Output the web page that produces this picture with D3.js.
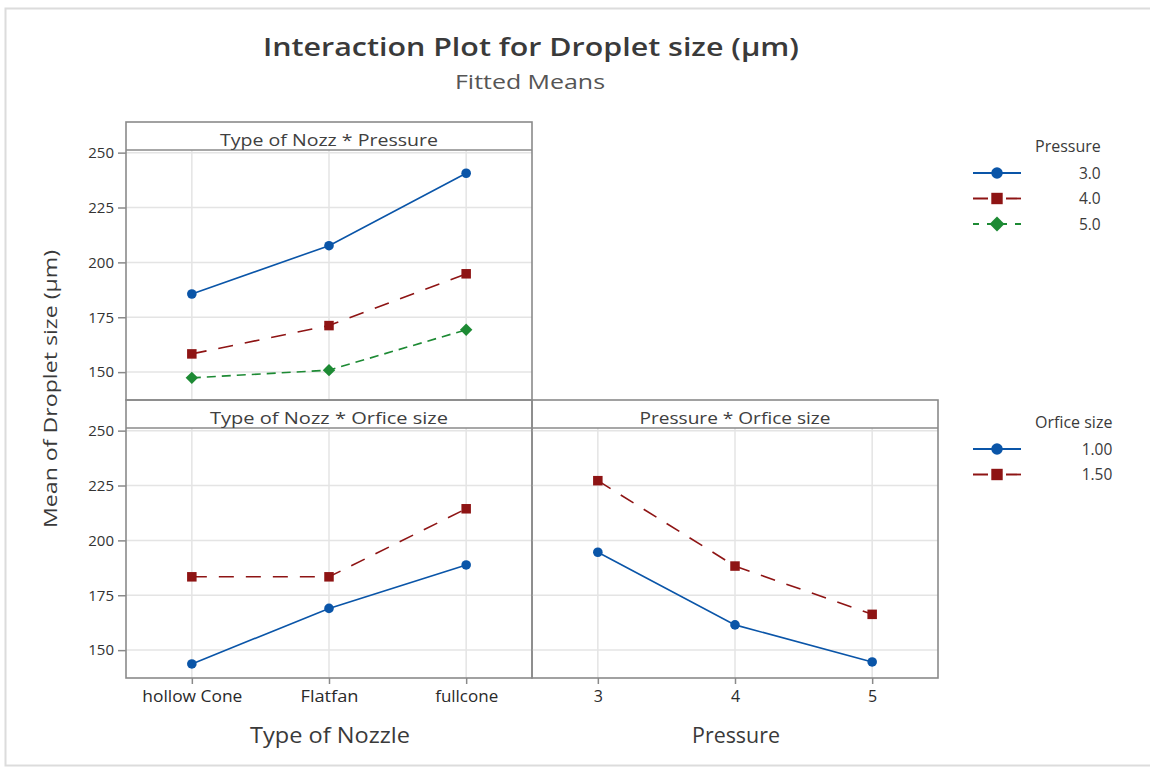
<!DOCTYPE html>
<html>
<head>
<meta charset="utf-8">
<script src="https://cdn.jsdelivr.net/npm/d3@7"></script>
<style>
  body { margin: 0; background: #fff; }
  svg { display: block; font-family: "Open Sans", "Noto Sans", sans-serif; }
</style>
</head>
<body>
<svg id="chart" width="1150" height="767"></svg>
<script>
// ---------- data ----------
const nozzleTypes = ["hollow Cone", "Flatfan", "fullcone"];
const pressureLevels = ["3", "4", "5"];
const pressureLegend = ["3.0", "4.0", "5.0"];
const orificeLegend = ["1.00", "1.50"];
const yTicks = [150, 175, 200, 225, 250];

// Type of Nozzle * Pressure
const nozzP3 = [185.6, 207.6, 240.6];
const nozzP4 = [158.3, 171.2, 194.8];
const nozzP5 = [147.4, 150.9, 169.3];
// Type of Nozzle * Orfice size
const nozzO100 = [143.7, 169.0, 188.8];
const nozzO150 = [183.4, 183.4, 214.4];
// Pressure * Orfice size
const presO100 = [194.6, 161.5, 144.6];
const presO150 = [227.2, 188.3, 166.3];

// ---------- styles ----------
const blue = "#0a55a8", red = "#8e1414", green = "#1d8a34";
const styles = {
  blue:  { color: blue,  dash: null,    marker: "circle" },
  red:   { color: red,   dash: "15,12", marker: "square" },
  green: { color: green, dash: "9,6",   marker: "diamond" }
};

const svg = d3.select("#chart");

// outer faint frame
svg.append("rect").attr("x", 5.5).attr("y", 8.5).attr("width", 1150).attr("height", 757)
  .attr("fill", "none").attr("stroke", "#dcdcdc").attr("stroke-width", 2);

function fitText(sel, len) {
  sel.attr("textLength", len).attr("lengthAdjust", "spacingAndGlyphs");
}

// titles
svg.append("text").attr("x", 531).attr("y", 56).attr("text-anchor", "middle")
  .attr("font-size", 26).attr("font-weight", 600).attr("fill", "#3a3a3a")
  .text("Interaction Plot for Droplet size (µm)").call(fitText, 536);
svg.append("text").attr("x", 530).attr("y", 89).attr("text-anchor", "middle")
  .attr("font-size", 20).attr("fill", "#555").text("Fitted Means").call(fitText, 150);

// y axis title
svg.append("text").attr("transform", "translate(57,389) rotate(-90)")
  .attr("text-anchor", "middle").attr("font-size", 19).attr("fill", "#3a3a3a")
  .text("Mean of Droplet size (µm)").call(fitText, 278);

// ---------- panels ----------
const frame = "#8a8a8a";
const yDomain = [137.3, 251.2];

function panel(opts) {
  const { x0, x1, top, bottom, title, titleLen, cats, series, showY, showX, xTitle, xTitleLen, xTickLens } = opts;
  const headH = 28;
  const plotTop = top + headH;
  const g = svg.append("g");
  const x = d3.scalePoint().domain(cats).range([x0, x1]).padding(0.48);
  const y = d3.scaleLinear().domain(yDomain).range([bottom, plotTop]);

  // gridlines
  g.selectAll(".hg").data(yTicks).join("line")
    .attr("x1", x0).attr("x2", x1).attr("y1", d => y(d)).attr("y2", d => y(d))
    .attr("stroke", "#e4e4e4").attr("stroke-width", 1.5);
  g.selectAll(".vg").data(cats).join("line")
    .attr("x1", d => x(d)).attr("x2", d => x(d)).attr("y1", plotTop).attr("y2", bottom)
    .attr("stroke", "#e4e4e4").attr("stroke-width", 1.5);

  // series
  series.forEach(s => {
    const st = styles[s.style];
    const pts = cats.map((c, i) => [x(c), y(s.values[i])]);
    g.append("path").attr("d", d3.line()(pts)).attr("fill", "none")
      .attr("stroke", st.color).attr("stroke-width", 1.6)
      .attr("stroke-dasharray", st.dash);
    pts.forEach(p => drawMarker(g, st, p[0], p[1], 1));
  });

  // box + header
  g.append("rect").attr("x", x0).attr("y", top).attr("width", x1 - x0).attr("height", bottom - top)
    .attr("fill", "none").attr("stroke", frame).attr("stroke-width", 1.6);
  g.append("line").attr("x1", x0).attr("x2", x1).attr("y1", plotTop).attr("y2", plotTop)
    .attr("stroke", frame).attr("stroke-width", 1.6);
  g.append("text").attr("x", (x0 + x1) / 2).attr("y", top + 24).attr("text-anchor", "middle")
    .attr("font-size", 17).attr("fill", "#404040").text(title).call(fitText, titleLen);

  if (showY) {
    const ax = g.append("g").attr("transform", `translate(${x0},0)`)
      .call(d3.axisLeft(y).tickValues(yTicks).tickSize(8).tickPadding(4));
    ax.select(".domain").remove();
    ax.selectAll(".tick line").attr("stroke", frame).attr("stroke-width", 1.5);
    ax.selectAll(".tick text").attr("font-size", 15).attr("fill", "#333")
      .attr("font-family", "'Open Sans', sans-serif");
  }
  if (showX) {
    const ax = g.append("g").attr("transform", `translate(0,${bottom})`)
      .call(d3.axisBottom(x).tickSize(6).tickPadding(7));
    ax.select(".domain").remove();
    ax.selectAll(".tick line").attr("stroke", frame).attr("stroke-width", 1.5);
    ax.selectAll(".tick text").attr("font-size", 16).attr("fill", "#2a2a2a")
      .attr("font-family", "'Open Sans', sans-serif")
      .each(function(d, i) { if (xTickLens) d3.select(this).call(fitText, xTickLens[i]); });
    g.append("text").attr("x", (x0 + x1) / 2 + 1).attr("y", bottom + 65).attr("text-anchor", "middle")
      .attr("font-size", 21).attr("fill", "#3a3a3a").text(xTitle).call(fitText, xTitleLen);
  }
}

function drawMarker(g, st, cx, cy, scale) {
  if (st.marker === "circle") {
    g.append("circle").attr("cx", cx).attr("cy", cy).attr("r", 4.8 * scale).attr("fill", st.color);
  } else if (st.marker === "square") {
    const s = 9.5 * scale;
    g.append("rect").attr("x", cx - s / 2).attr("y", cy - s / 2).attr("width", s).attr("height", s)
      .attr("fill", st.color);
  } else {
    const s = 6.2 * scale;
    g.append("path").attr("d", `M${cx},${cy - s}L${cx + s},${cy}L${cx},${cy + s}L${cx - s},${cy}Z`)
      .attr("fill", st.color);
  }
}

panel({ x0: 126, x1: 532, top: 122, bottom: 400, title: "Type of Nozz * Pressure", titleLen: 218,
  cats: nozzleTypes, showY: true, showX: false,
  series: [{ values: nozzP3, style: "blue" }, { values: nozzP4, style: "red" }, { values: nozzP5, style: "green" }] });
panel({ x0: 126, x1: 532, top: 400, bottom: 678, title: "Type of Nozz * Orfice size", titleLen: 238,
  cats: nozzleTypes, showY: true, showX: true, xTitle: "Type of Nozzle", xTitleLen: 160,
  xTickLens: [100, 58, 63],
  series: [{ values: nozzO100, style: "blue" }, { values: nozzO150, style: "red" }] });
panel({ x0: 532, x1: 938, top: 400, bottom: 678, title: "Pressure * Orfice size", titleLen: 191,
  cats: pressureLevels, showY: false, showX: true, xTitle: "Pressure", xTitleLen: 88,
  series: [{ values: presO100, style: "blue" }, { values: presO150, style: "red" }] });

// ---------- legends ----------
function legend(title, labels, styleKeys, top) {
  const g = svg.append("g");
  const t = g.append("text").attr("x", 1035).attr("y", top).attr("font-size", 16)
    .attr("fill", "#3a3a3a").text(title);
  const right = 1035 + t.node().getComputedTextLength();
  labels.forEach((lab, i) => {
    const st = styles[styleKeys[i]];
    const yy = top + 21 + i * 25.5;
    g.append("line").attr("x1", 973).attr("x2", 1021).attr("y1", yy).attr("y2", yy)
      .attr("stroke", st.color).attr("stroke-width", 1.8)
      .attr("stroke-dasharray", st.dash ? (st.marker === "diamond" ? "6,8" : "15,18") : null);
    drawMarker(g, st, 997, yy, 1.2);
    g.append("text").attr("x", right).attr("y", yy + 5.5).attr("text-anchor", "end")
      .attr("font-size", 15.5).attr("fill", "#3a3a3a").text(lab);
  });
}
legend("Pressure", pressureLegend, ["blue", "red", "green"], 152);
legend("Orfice size", orificeLegend, ["blue", "red"], 428);
</script>
</body>
</html>
